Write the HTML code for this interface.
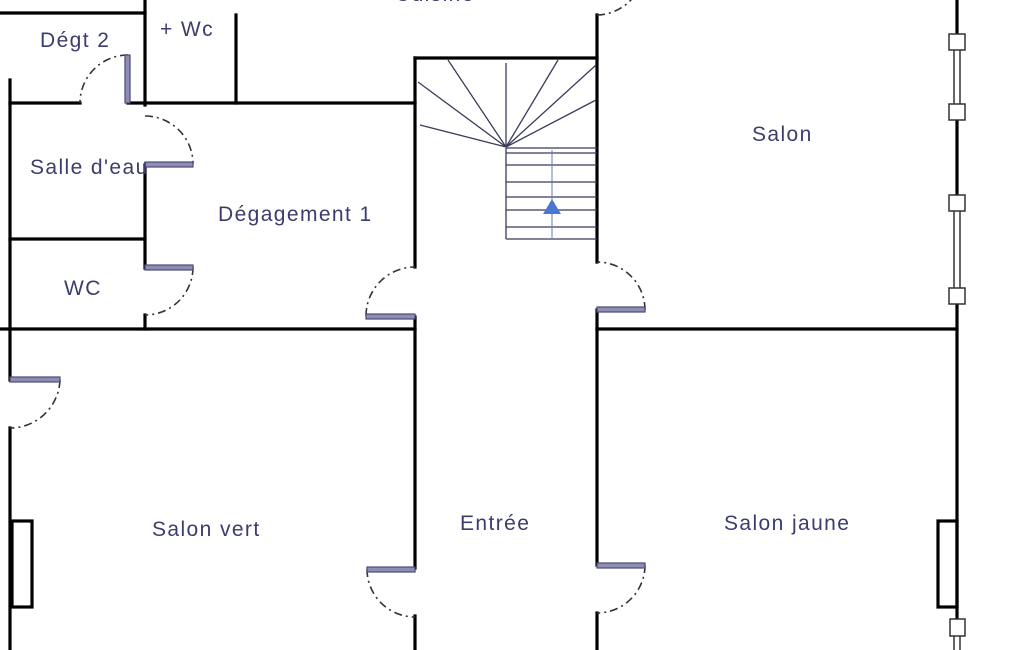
<!DOCTYPE html>
<html><head><meta charset="utf-8"><style>
html,body{margin:0;padding:0;background:#fff;}
svg{display:block}
text{font-family:"Liberation Sans",sans-serif;font-size:21px;letter-spacing:1.4px;fill:#3c3c6e;}
</style></head><body>
<svg width="1025" height="650" viewBox="0 0 1025 650" xmlns="http://www.w3.org/2000/svg">
<g stroke="#000" stroke-width="3.2" fill="none" stroke-linecap="square">
<line x1="0" y1="13" x2="145" y2="13"/>
<line x1="145" y1="0" x2="145" y2="105"/>
<line x1="145" y1="165" x2="145" y2="268"/>
<line x1="145" y1="315" x2="145" y2="329"/>
<line x1="236" y1="15" x2="236" y2="103"/>
<line x1="10" y1="103" x2="80" y2="103"/>
<line x1="128" y1="103" x2="415" y2="103"/>
<line x1="10" y1="80" x2="10" y2="380"/>
<line x1="10" y1="428" x2="10" y2="650"/>
<line x1="10" y1="239" x2="145" y2="239"/>
<line x1="0" y1="329" x2="415" y2="329"/>
<line x1="597" y1="329" x2="957" y2="329"/>
<line x1="415" y1="58" x2="415" y2="267"/>
<line x1="415" y1="317" x2="415" y2="568"/>
<line x1="415" y1="616" x2="415" y2="650"/>
<line x1="415" y1="58" x2="597" y2="58"/>
<line x1="597" y1="15" x2="597" y2="262"/>
<line x1="597" y1="310" x2="597" y2="565"/>
<line x1="597" y1="613" x2="597" y2="650"/>
<line x1="957" y1="0" x2="957" y2="34"/>
<line x1="957" y1="120" x2="957" y2="195"/>
<line x1="957" y1="304" x2="957" y2="618"/>
<rect x="12" y="521" width="20" height="86"/>
<rect x="938" y="521" width="19" height="86"/>
</g>
<g stroke="#333" stroke-width="1.5" fill="#fff">
<line x1="954" y1="50" x2="954" y2="104"/><line x1="960" y1="50" x2="960" y2="104"/>
<line x1="954" y1="211" x2="954" y2="288"/><line x1="960" y1="211" x2="960" y2="288"/>
<line x1="954" y1="636" x2="954" y2="650"/><line x1="960" y1="636" x2="960" y2="650"/>
<rect x="949" y="34" width="16" height="16"/>
<rect x="949" y="104" width="16" height="16"/>
<rect x="949" y="195" width="16" height="16"/>
<rect x="949" y="288" width="16" height="16"/>
<rect x="950" y="619" width="15" height="17"/>
</g>
<g stroke="#3a3a5a" stroke-width="1.3">
<line x1="506" y1="147" x2="418" y2="82"/>
<line x1="506" y1="147" x2="448" y2="60"/>
<line x1="506" y1="147" x2="506" y2="63"/>
<line x1="506" y1="147" x2="558" y2="60"/>
<line x1="506" y1="147" x2="596" y2="65"/>
<line x1="506" y1="147" x2="596" y2="100"/>
<line x1="506" y1="147" x2="420" y2="125"/>
<line x1="506" y1="148" x2="506" y2="239"/>
<line x1="506" y1="148" x2="597" y2="148"/>
<line x1="506" y1="153" x2="597" y2="153"/>
<line x1="506" y1="165" x2="597" y2="165"/>
<line x1="506" y1="182" x2="597" y2="182"/>
<line x1="506" y1="197" x2="597" y2="197"/>
<line x1="506" y1="210" x2="597" y2="210"/>
<line x1="506" y1="227" x2="597" y2="227"/>
<line x1="506" y1="239" x2="597" y2="239"/>
<line x1="552" y1="150" x2="552" y2="238" stroke="#6a7ab0" stroke-width="1"/>
</g>
<polygon points="552,199 543,214 561,214" fill="#4a78d0"/>
<g stroke="#333" stroke-width="1.6" fill="none" stroke-dasharray="8,4,2,4">
<path d="M128,55 A48,48 0 0 0 80,103"/>
<path d="M145,116 A48,48 0 0 1 193,164"/>
<path d="M193,267 A48,48 0 0 1 145,315"/>
<path d="M366,316 A49,49 0 0 1 415,267"/>
<path d="M645,310 A48,48 0 0 0 597,262"/>
<path d="M597,15 A48,48 0 0 0 635,-5"/>
<path d="M60,380 A50,50 0 0 1 10,428"/>
<path d="M367,569 A48,48 0 0 0 415,617"/>
<path d="M645,565 A48,48 0 0 1 597,613"/>
</g>
<g fill="#8e8eb4" stroke="#4a4a78" stroke-width="1.2">
<rect x="125" y="55" width="5" height="48"/>
<rect x="145" y="162" width="48" height="5"/>
<rect x="145" y="265" width="48" height="5"/>
<rect x="366" y="314" width="49" height="5"/>
<rect x="597" y="307" width="48" height="5"/>
<rect x="10" y="377" width="50" height="5"/>
<rect x="367" y="567" width="48" height="5"/>
<rect x="597" y="563" width="48" height="5"/>
</g>
<text x="40" y="47">Dégt 2</text>
<text x="160" y="36">+ Wc</text>
<text x="395" y="1">Cuisine</text>
<text x="30" y="174">Salle d'eau</text>
<text x="218" y="221">Dégagement 1</text>
<text x="64" y="295">WC</text>
<text x="752" y="141">Salon</text>
<text x="152" y="536">Salon vert</text>
<text x="460" y="530">Entrée</text>
<text x="724" y="530">Salon jaune</text>
</svg>
</body></html>
